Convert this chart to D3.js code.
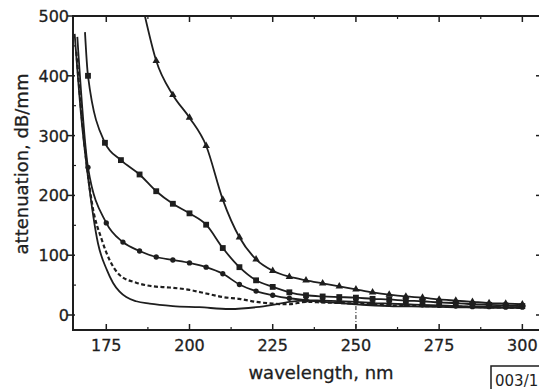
<!DOCTYPE html>
<html><head><meta charset="utf-8">
<script src="https://cdn.jsdelivr.net/npm/d3@7"></script>
<style>html,body{margin:0;padding:0;background:#fff;}svg{display:block;}</style>
</head><body>
<svg id="c" width="539" height="389"></svg>
<script>
// ---- data ----
const xTicks = [175, 200, 225, 250, 275, 300];
const yTicks = [0, 100, 200, 300, 400, 500];
const xLabel = "wavelength, nm";
const yLabel = "attenuation, dB/mm";
const figId = "003/1";

// triangles (top curve): [wavelength, attenuation]
const triWl  = [186.6, 190, 195, 200, 205, 210, 215, 220, 225, 230, 235, 240, 245, 250, 255, 260, 265, 270, 275, 280, 285, 290, 295, 300];
const triVal = [500, 425, 368, 330, 283, 193, 130, 93, 74, 64, 58, 53, 48, 43, 38, 34, 31, 29, 26, 24, 22, 20, 19, 18];

// squares
const sqWl  = [168.6, 169.5, 174.6, 179.4, 185, 190, 195, 200, 205, 210, 215, 220, 225, 230, 235, 240, 245, 250, 255, 260, 265, 270, 275, 280, 285, 290, 295, 300];
const sqVal = [473, 400, 288, 259, 235, 207, 186, 170, 151, 112, 80, 58, 47, 38, 33, 31, 30, 29, 27, 26, 24, 23, 21, 20, 18, 17, 16, 15];

// circles
const ciWl  = [166.3, 169.5, 175, 180, 185, 190, 195, 200, 205, 210, 215, 220, 225, 230, 235, 240, 245, 250, 255, 260, 265, 270, 275, 280, 285, 290, 295, 300];
const ciVal = [465, 247, 154, 122, 107, 97, 92, 87, 80, 69, 51, 40, 33, 28, 25, 24, 23, 22, 20, 19, 18, 17, 16, 15, 14, 14, 13, 13];

// dashed curve
const daWl  = [166, 168, 170.7, 173.7, 176, 179, 184, 189, 194, 200, 205, 210, 215, 220, 225, 230, 235, 240, 250, 260, 270, 280, 290, 300];
const daVal = [440, 310, 187, 125, 92, 67, 54, 48, 46, 42, 36, 30, 27, 22, 19, 18, 22, 21, 19, 16, 15, 14, 13, 12];

// solid curve (no markers)
const soWl  = [165.5, 167.5, 169.5, 172.5, 175.2, 177, 179, 181, 184, 188, 195, 203, 212, 220, 225, 230, 235, 240, 250, 260, 270, 280, 290, 300];
const soVal = [470, 330, 231, 120, 75, 54, 39, 30, 23, 19, 15, 13, 10, 13, 17, 22, 24, 22, 18, 15, 14, 13, 12, 12];

// ---- drawing ----
const svg = d3.select("#c");
const ink = "#1e1e1e";
const x = d3.scaleLinear().domain([165, 305.3]).range([73, 540]);
const y = d3.scaleLinear().domain([0, 500]).range([315, 16]);
const yBottom = y(-25.1), yTop = y(500);
const xLeft = x(165), xRight = x(305.3);

const zip = (a, b) => a.map((v, i) => [v, b[i]]);
const line = d3.line().x(d => x(d[0])).y(d => y(d[1])).curve(d3.curveMonotoneX);

const g = svg.append("g");
// frame
g.append("path")
  .attr("d", `M${xLeft},${yTop}L${xRight},${yTop}L${xRight},${yBottom}L${xLeft},${yBottom}Z`)
  .attr("fill", "none").attr("stroke", ink).attr("stroke-width", 2);

// x ticks (bottom & top, inward)
const xMinor = d3.range(187.5, 305, 25);
xTicks.forEach(t => {
  g.append("line").attr("x1", x(t)).attr("x2", x(t)).attr("y1", yBottom).attr("y2", yBottom - 6).attr("stroke", ink).attr("stroke-width", 1.5);
  g.append("line").attr("x1", x(t)).attr("x2", x(t)).attr("y1", yTop).attr("y2", yTop + 6).attr("stroke", ink).attr("stroke-width", 1.5);
});
xMinor.forEach(t => {
  g.append("line").attr("x1", x(t)).attr("x2", x(t)).attr("y1", yBottom).attr("y2", yBottom - 3).attr("stroke", ink).attr("stroke-width", 1.2);
  g.append("line").attr("x1", x(t)).attr("x2", x(t)).attr("y1", yTop).attr("y2", yTop + 3).attr("stroke", ink).attr("stroke-width", 1.2);
});
// y ticks (left outward, right inward)
yTicks.forEach(t => {
  g.append("line").attr("x1", xLeft - 6).attr("x2", xLeft + 2).attr("y1", y(t)).attr("y2", y(t)).attr("stroke", ink).attr("stroke-width", 1.5);
  g.append("line").attr("x1", xRight).attr("x2", xRight - 4).attr("y1", y(t)).attr("y2", y(t)).attr("stroke", ink).attr("stroke-width", 1.5);
});
d3.range(50, 500, 100).forEach(t => {
  g.append("line").attr("x1", xLeft).attr("x2", xLeft + 3).attr("y1", y(t)).attr("y2", y(t)).attr("stroke", ink).attr("stroke-width", 1.2);
});

const font = "'DejaVu Sans', sans-serif";
// tick labels
g.selectAll(".xl").data(xTicks).enter().append("text")
  .attr("x", d => x(d)).attr("y", 351).attr("text-anchor", "middle")
  .attr("font-family", font).attr("font-size", 16).attr("fill", ink)
  .attr("stroke", ink).attr("stroke-width", 0.3).text(d => d);
g.selectAll(".yl").data(yTicks).enter().append("text")
  .attr("x", 69).attr("y", d => y(d) + 6).attr("text-anchor", "end")
  .attr("font-family", font).attr("font-size", 16).attr("fill", ink)
  .attr("stroke", ink).attr("stroke-width", 0.3).text(d => d);

// axis titles
g.append("text").attr("x", 321).attr("y", 379).attr("text-anchor", "middle")
  .attr("font-family", font).attr("font-size", 18).attr("fill", ink)
  .attr("stroke", ink).attr("stroke-width", 0.3).text(xLabel);
g.append("text").attr("transform", "translate(28,164) rotate(-90)").attr("text-anchor", "middle")
  .attr("font-family", font).attr("font-size", 18).attr("fill", ink)
  .attr("stroke", ink).attr("stroke-width", 0.3).text(yLabel);

// figure id box
g.append("path").attr("d", "M491,389L491,366L541,366").attr("fill", "none").attr("stroke", ink).attr("stroke-width", 1.5);
g.append("text").attr("x", 495).attr("y", 386).attr("font-family", font).attr("font-size", 15).attr("fill", ink).text(figId);

// dash-dot guide at 250 nm
g.append("line").attr("x1", x(250)).attr("x2", x(250)).attr("y1", y(30)).attr("y2", yBottom)
  .attr("stroke", ink).attr("stroke-width", 1).attr("stroke-dasharray", "4,2,1,2");

// clip to plot
svg.append("clipPath").attr("id", "clip").append("rect")
  .attr("x", xLeft).attr("y", yTop).attr("width", xRight - xLeft).attr("height", yBottom - yTop);
const p = svg.append("g").attr("clip-path", "url(#clip)");

const series = [
  {wl: soWl, v: soVal, dash: null, marker: null},
  {wl: daWl, v: daVal, dash: "4,2.5", marker: null},
  {wl: ciWl, v: ciVal, dash: null, marker: "circle"},
  {wl: sqWl, v: sqVal, dash: null, marker: "square"},
  {wl: triWl, v: triVal, dash: null, marker: "triangle"}
];
series.forEach(s => {
  const pts = zip(s.wl, s.v);
  p.append("path").attr("d", line(pts)).attr("fill", "none").attr("stroke", ink)
    .attr("stroke-width", s.dash ? 2.2 : 1.8).attr("stroke-dasharray", s.dash);
  if (s.marker) {
    const sym = s.marker === "circle" ? d3.symbolCircle : s.marker === "square" ? d3.symbolSquare : d3.symbolTriangle;
    const size = s.marker === "circle" ? 22 : s.marker === "square" ? 34 : 24;
    p.selectAll(null).data(pts.slice(1)).enter().append("path")
      .attr("transform", d => `translate(${x(d[0])},${y(d[1])})`)
      .attr("d", d3.symbol().type(sym).size(size)).attr("fill", ink);
  }
});
</script>
</body></html>
